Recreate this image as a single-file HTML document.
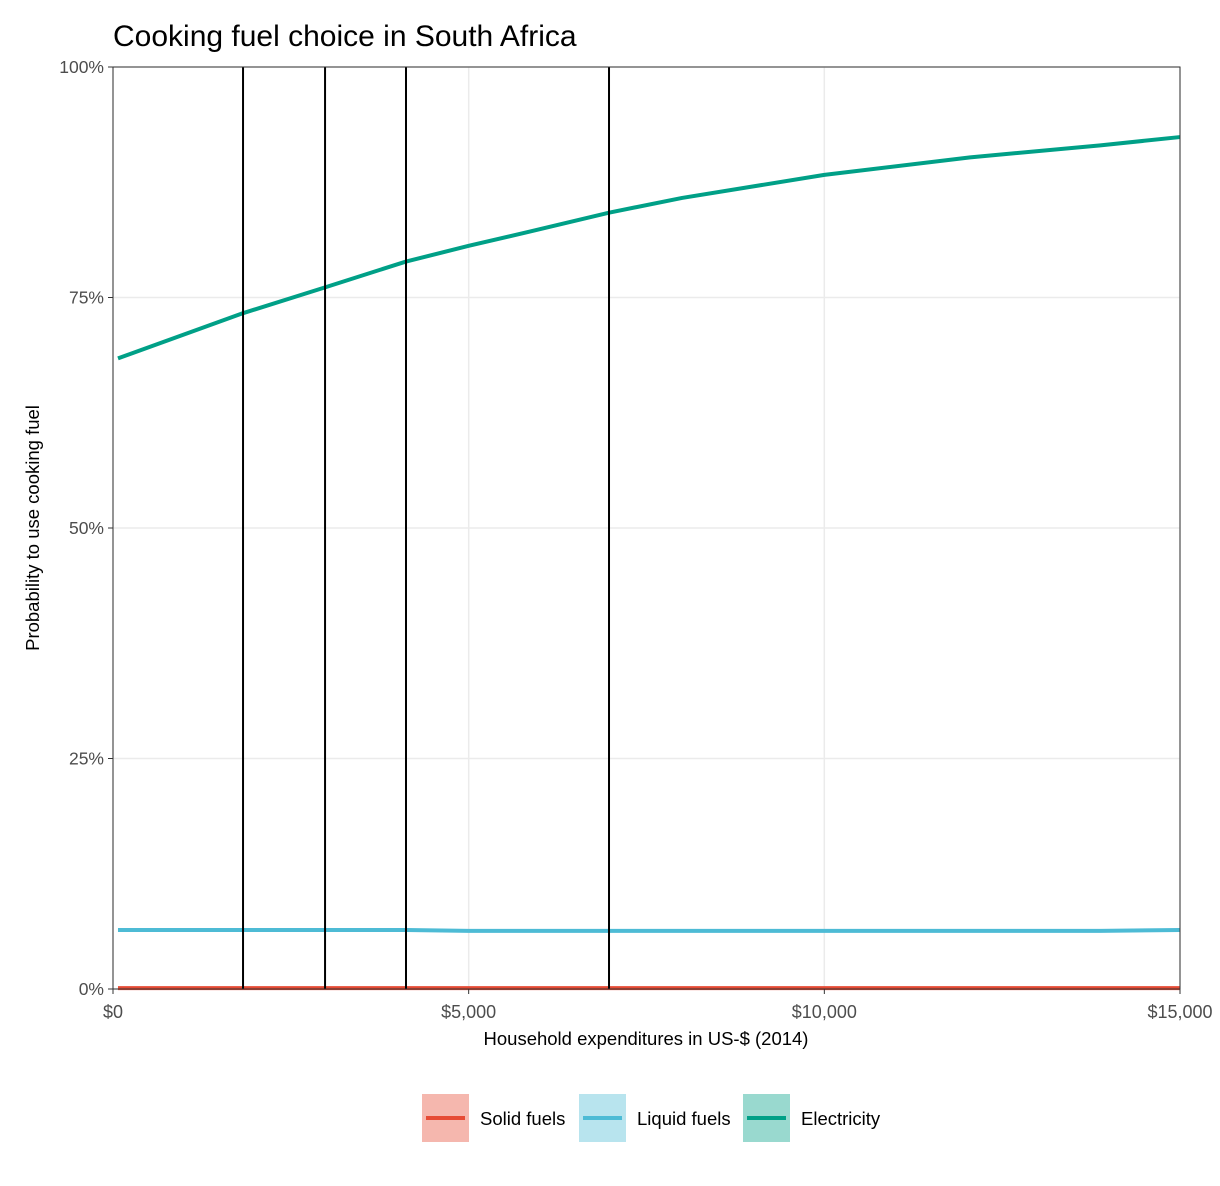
<!DOCTYPE html>
<html><head><meta charset="utf-8"><style>
body{margin:0;background:#fff;}
svg text{font-family:"Liberation Sans",Arial,sans-serif;}
</style></head><body>
<svg width="1220" height="1181" xmlns="http://www.w3.org/2000/svg">
<g id="grid"></g>
<g id="series"></g>
<g id="vlines"></g>
<rect x="113" y="67" width="1067" height="922" fill="none" stroke="#333" stroke-width="1"/>
<g id="axes"></g>
<text x="113" y="46" font-size="30" fill="#000">Cooking fuel choice in South Africa</text>
<text x="646" y="1045" font-size="18.5" text-anchor="middle" fill="#000">Household expenditures in US-$ (2014)</text>
<text transform="translate(39,528) rotate(-90)" font-size="18.5" text-anchor="middle" fill="#000">Probability to use cooking fuel</text>
<g id="legend"></g>
</svg>
<script>
const xTicks=[0,5000,10000,15000];
const xTickLabels=["$0","$5,000","$10,000","$15,000"];
const yTicks=[0,25,50,75,100];
const yTickLabels=["0%","25%","50%","75%","100%"];
const vlineValues=[1828,2981,4119,6973];
const xs=[70,1828,2981,4119,5000,5830,6973,8000,10000,12050,13880,15000];
const electricity=[68.4,73.3,76.1,78.9,80.6,82.1,84.2,85.8,88.3,90.2,91.5,92.4];
const liquid=[6.4,6.4,6.4,6.4,6.3,6.3,6.3,6.3,6.3,6.3,6.3,6.4];
const solid=[0.1,0.1,0.1,0.1,0.1,0.1,0.1,0.1,0.1,0.1,0.1,0.1];
const seriesNames=["Solid fuels","Liquid fuels","Electricity"];
const seriesColors=["#E64B35","#4DBBD5","#00A087"];
const fillColors=["#F5B7AE","#B8E4EE","#99D9CF"];
const NS="http://www.w3.org/2000/svg";
const X=v=>113+v/15000*1067, Y=v=>989-v/100*922;
function mk(t,a,p){const e=document.createElementNS(NS,t);for(const k in a)e.setAttribute(k,a[k]);p.appendChild(e);return e;}
const grid=document.getElementById('grid'),axes=document.getElementById('axes');
yTicks.forEach((t,i)=>{
 const l=mk('line',{x1:113,x2:1180,y1:Y(t),y2:Y(t),stroke:'#ebebeb','stroke-width':1.5},grid);
 
 
 const k=mk('line',{x1:108,x2:113,y1:Y(t),y2:Y(t),stroke:'#333'},axes);
 
 
 const tx=mk('text',{x:104,y:Y(t)+6,'font-size':17.5,'text-anchor':'end',fill:'#4d4d4d'},axes);
 tx.textContent=yTickLabels[i];
 
 
});
xTicks.forEach((t,i)=>{
 const l=mk('line',{x1:X(t),x2:X(t),y1:67,y2:989,stroke:'#ebebeb','stroke-width':1.5},grid);
 
 
 const k=mk('line',{x1:X(t),x2:X(t),y1:989,y2:994,stroke:'#333'},axes);
 
 
 const tx=mk('text',{x:X(t),y:1018,'font-size':18,'text-anchor':'middle',fill:'#4d4d4d'},axes);
 tx.textContent=xTickLabels[i];
 
 
});
const ser=document.getElementById('series');
[solid,liquid,electricity].forEach((d,i)=>{
 const p=mk('polyline',{points:xs.map((x,j)=>X(x)+','+Y(d[j])).join(' '),fill:'none',stroke:seriesColors[i],'stroke-width':4,'stroke-linejoin':'round'},ser);
 
 
});
const vl=document.getElementById('vlines');
vlineValues.forEach(v=>{
 const l=mk('line',{x1:X(v),x2:X(v),y1:67,y2:989,stroke:'#000','stroke-width':2},vl);
 
 
});
const lg=document.getElementById('legend');
const lx=[422,579,743];
seriesNames.forEach((n,i)=>{
 const g=mk('g',{},lg);
 
 
 mk('rect',{x:lx[i],y:1094,width:47,height:48,fill:fillColors[i]},g);
 mk('line',{x1:lx[i]+4,x2:lx[i]+43,y1:1118,y2:1118,stroke:seriesColors[i],'stroke-width':4},g);
 const t=mk('text',{x:lx[i]+58,y:1125,'font-size':18.5,fill:'#000'},g);
 t.textContent=n;
});
</script>
</body></html>
